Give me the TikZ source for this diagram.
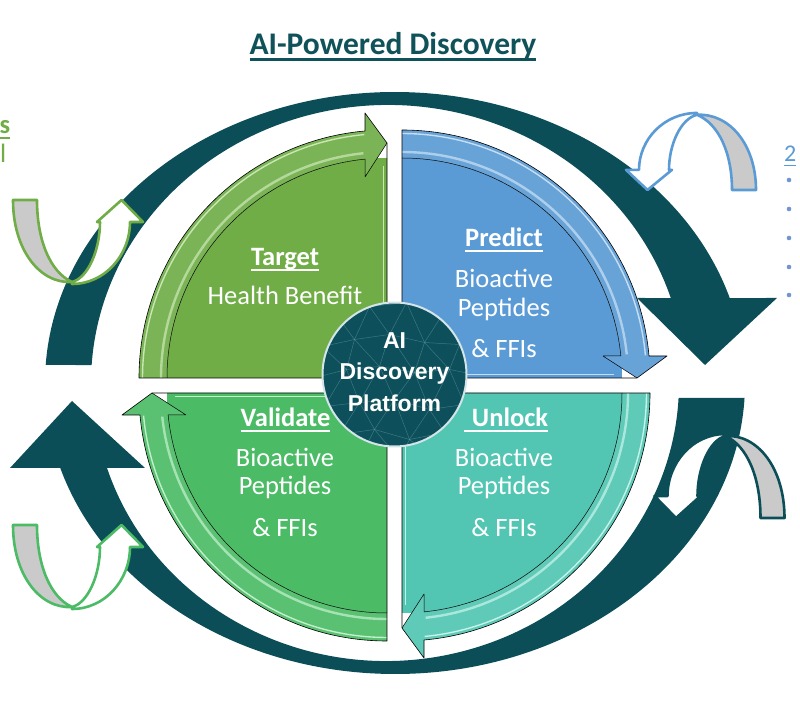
\documentclass[tikz,border=0pt]{standalone}
\usepackage{fontspec}
\setmainfont{Carlito}
\newfontfamily\arialf{Liberation Sans}
\usetikzlibrary{calc}
\definecolor{ring}{HTML}{0C4E58}
\definecolor{circfill}{HTML}{0D4F5B}
\definecolor{circedge}{HTML}{D3E5E8}
\definecolor{meshc}{HTML}{5A959D}
\definecolor{titlec}{HTML}{0F5259}
\definecolor{tgreen}{HTML}{70AD47}
\definecolor{tgreenL}{HTML}{C9E6B3}
\definecolor{pblue}{HTML}{5B9BD5}
\definecolor{pblueL}{HTML}{C6DEF3}
\definecolor{uteal}{HTML}{52C6B2}
\definecolor{utealL}{HTML}{C4F3EB}
\definecolor{vgreen}{HTML}{4CBB66}
\definecolor{vgreenL}{HTML}{C0EFCB}
\definecolor{ugray}{HTML}{CACACA}
\definecolor{bulletc}{HTML}{7096D0}

\newcommand\myul[1]{\setbox0\hbox{#1}\rlap{\rule[-0.18em]{\wd0}{0.075em}}\box0}

\newcommand\quadshape[2]{%
  \fill[#1] (0,0) -- (-220,0) arc[start angle=180,end angle=90,radius=220] -- cycle;
  \fill[#1!92!white] (-248,0) arc[start angle=180,end angle=95.09,radius=248] -- (-22,265) -- (0,235) -- (-22,201) -- (-22,219) arc[start angle=95.74,end angle=180,radius=220] -- cycle;
  \draw[#2,line width=1.4pt] (-244.5,0) arc[start angle=180,end angle=95.3,radius=244.5];
  \draw[#2,line width=2.4pt,opacity=.75] (-226,0) arc[start angle=180,end angle=96,radius=226];
  \draw[#2,line width=1.4pt] (-3.5,3) -- (-3.5,212);
  \draw[black,line width=.6pt,line join=round] (0,0) -- (-248,0) arc[start angle=180,end angle=95.09,radius=248] -- (-22,265) -- (0,235) -- cycle;
  \draw[black,line width=.5pt,line join=round] (-220,0) arc[start angle=180,end angle=95.74,radius=220] -- (-22,201) -- (0,235);
}

\newcommand\uturn[1]{%
  \filldraw[fill=ugray,draw=#1,line width=2.6pt,line join=round] (13,520) -- (37,520) .. controls (37,480) and (50,448) .. (72,438) .. controls (40,436) and (13,470) .. (13,520) -- cycle;
  \filldraw[fill=white,draw=#1,line width=2.6pt,line join=round] (72,436) .. controls (105,436) and (130,465) .. (130,498) -- (143,498) -- (121.5,520) -- (97,498) -- (100,498) .. controls (100,470) and (88,442) .. (72,438) -- cycle;
}

\tikzset{
  qtext/.style={text=white,font=\fontsize{26.5}{32}\selectfont,anchor=base,inner sep=0pt},
  ctext/.style={text=white,font=\arialf\bfseries\fontsize{23}{28}\selectfont,anchor=base,inner sep=0pt},
  meshline/.style={meshc,line width=.5pt,opacity=.6}
}

\begin{document}
\begin{tikzpicture}[x=1pt,y=1pt]
\useasboundingbox (0,0) rectangle (800,720);
\fill[white] (0,0) rectangle (800,720);

% dark ring, upper part
\fill[ring] ($(395,337)+(176.45:350 and 291)$) arc[start angle=176.45,end angle=16.98,x radius=350,y radius=291] -- (777,422) -- (705,355) -- (637,422) -- ($(388,337)+(17.8:297 and 278)$) arc[start angle=17.8,end angle=176.29,x radius=297,y radius=278] -- cycle;
% dark ring, lower part
\fill[ring] ($(395,337)+(-2.95:350 and 291)$) arc[start angle=-2.95,end angle=-163.02,x radius=350,y radius=291] -- (10,252) -- (72,319) -- (145,252) -- ($(386,337)+(-162.2:293 and 278)$) arc[start angle=-162.2,end angle=-3.09,x radius=293,y radius=278] -- cycle;

% U-turn arrows
\uturn{tgreen}
\begin{scope}[yshift=-325pt]\uturn{vgreen}\end{scope}
\begin{scope}[shift={(0,530)},yscale=0.917,shift={(0,-530)}]
  \begin{scope}[rotate around={180:(384.5,525)}]\uturn{pblue}\end{scope}
\end{scope}
\begin{scope}[rotate around={180:(398.75,361)}]\uturn{ring}\end{scope}

% quadrants
\begin{scope}[shift={(387,342)}]\quadshape{tgreen}{tgreenL}\end{scope}
\begin{scope}[shift={(402,342)},rotate=-90]\quadshape{pblue}{pblueL}\end{scope}
\begin{scope}[shift={(402,327)},rotate=180]\quadshape{uteal}{utealL}\end{scope}
\begin{scope}[shift={(387,327)},rotate=90]\quadshape{vgreen}{vgreenL}\end{scope}

% centre circle
\fill[circfill] (394.5,345.5) circle (72);
\begin{scope}[shift={(394.5,345.5)}]
\clip (0,0) circle (72);
\draw[meshline] (-60,62)--(-25,68)--(12,72)--(48,60);
\draw[meshline] (-72,28)--(-40,35)--(-5,40)--(30,32)--(65,30);
\draw[meshline] (-75,-2)--(-48,5)--(-15,8)--(20,2)--(55,5)--(80,0);
\draw[meshline] (-70,-32)--(-35,-28)--(0,-25)--(35,-35)--(70,-30);
\draw[meshline] (-55,-60)--(-20,-55)--(15,-65)--(50,-58);
\draw[meshline] (-72,28)--(-60,62)--(-40,35)--(-25,68)--(-5,40)--(12,72)--(30,32)--(48,60)--(65,30);
\draw[meshline] (-75,-2)--(-72,28)--(-48,5)--(-40,35)--(-15,8)--(-5,40)--(20,2)--(30,32)--(55,5)--(65,30)--(80,0);
\draw[meshline] (-75,-2)--(-70,-32)--(-48,5)--(-35,-28)--(-15,8)--(0,-25)--(20,2)--(35,-35)--(55,5)--(70,-30)--(80,0);
\draw[meshline] (-70,-32)--(-55,-60)--(-35,-28)--(-20,-55)--(0,-25)--(15,-65)--(35,-35)--(50,-58)--(70,-30);
\draw[meshline] (-55,-60)--(-35,-85)--(-20,-55)--(5,-85)--(15,-65)--(40,-85)--(50,-58);
\draw[meshline] (-60,62)--(-40,90)--(-25,68)--(0,95)--(12,72)--(35,92)--(48,60);
\end{scope}
\draw[circedge,line width=2pt] (394.5,345.5) circle (72);

% texts
\node[text=titlec,font=\bfseries\fontsize{31.5}{38}\selectfont,anchor=base,inner sep=0pt] (title) at (393,665) {\myul{AI-Powered Discovery}};

\node[qtext] (tgt) at (285,454) {\bfseries\myul{Target}};
\node[qtext] (tgt2) at (285,415) {Health Benefit};

\node[qtext] (prd) at (504,473) {\bfseries\myul{Predict}};
\node[qtext] (prd2) at (504,432) {Bioactive};
\node[qtext] (prd3) at (504,403) {Peptides};
\node[qtext] (prd4) at (504,362) {\& FFIs};

\node[qtext] (unl) at (506,293) {\bfseries\myul{\hspace{8pt}Unlock}};
\node[qtext] (unl2) at (504,253) {Bioactive};
\node[qtext] (unl3) at (504,225) {Peptides};
\node[qtext] (unl4) at (504,183) {\& FFIs};

\node[qtext] (val) at (285.5,293) {\bfseries\myul{Validate}};
\node[qtext] (val2) at (285,253) {Bioactive};
\node[qtext] (val3) at (285,225) {Peptides};
\node[qtext] (val4) at (285,183) {\& FFIs};

\node[ctext] (ai1) at (394.5,371) {AI};
\node[ctext] (ai2) at (394.5,340) {Discovery};
\node[ctext] (ai3) at (394.5,308) {Platform};

% cut-off side texts
\node[text=tgreen,font=\bfseries\fontsize{26.5}{32}\selectfont,anchor=base east,inner sep=0pt] (ls) at (10.5,586) {\myul{s}};
\node[text=tgreen,font=\fontsize{26.5}{32}\selectfont,anchor=base east,inner sep=0pt] (lal) at (6.5,557) {al};
\node[text=pblue,font=\fontsize{24}{30}\selectfont,anchor=base west,inner sep=0pt] (r2) at (784,558) {\myul{2}};
\foreach \yy in {180,209,238,267,295} \fill[bulletc] (789,720-\yy) circle (2.3);
\end{tikzpicture}
\end{document}
